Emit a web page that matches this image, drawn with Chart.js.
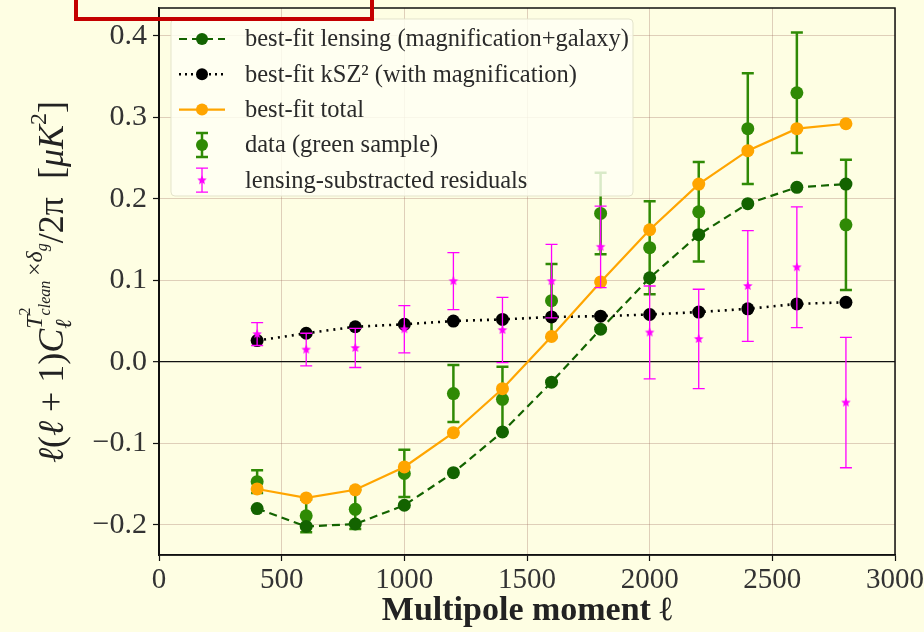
<!DOCTYPE html>
<html lang="en">
<head>
<meta charset="UTF-8">
<title>Lensing and kSZ² cross-spectrum</title>
<script src="https://cdn.jsdelivr.net/npm/chart.js"></script>
<style>
  html, body { margin: 0; padding: 0; background: #fefee3; }
  canvas { display: block; }
</style>
</head>
<body>
<canvas id="spectrumChart" width="924" height="632"></canvas>
<script>
// multipole bins
const ell = [400, 600, 800, 1000, 1200, 1400, 1600, 1800, 2000, 2200, 2400, 2600, 2800];

// best-fit curves
const lensingFit = [-0.180, -0.202, -0.199, -0.176, -0.136, -0.086, -0.025, 0.040, 0.103, 0.156, 0.194, 0.214, 0.218];
const kszFit     = [0.026, 0.035, 0.043, 0.046, 0.050, 0.052, 0.055, 0.056, 0.058, 0.061, 0.065, 0.071, 0.073];
const totalFit   = [-0.156, -0.167, -0.157, -0.129, -0.087, -0.033, 0.031, 0.098, 0.162, 0.218, 0.259, 0.286, 0.292];

// measurements and 1-sigma errors
const greenData = [-0.147, -0.189, -0.181, -0.137, -0.039, -0.046, 0.075, 0.182, 0.140, 0.184, 0.286, 0.330, 0.168];
const residuals = [0.034, 0.015, 0.017, 0.040, 0.099, 0.039, 0.099, 0.141, 0.036, 0.028, 0.093, 0.116, -0.050];
const sigma     = [0.014, 0.020, 0.024, 0.029, 0.035, 0.040, 0.045, 0.050, 0.057, 0.061, 0.068, 0.074, 0.080];

const xTickValues = [0, 500, 1000, 1500, 2000, 2500, 3000];
const yTickValues = [-0.2, -0.1, 0.0, 0.1, 0.2, 0.3, 0.4];

const legendLabels = [
  'best-fit lensing (magnification+galaxy)',
  'best-fit kSZ\u00b2 (with magnification)',
  'best-fit total',
  'data (green sample)',
  'lensing-substracted residuals'
];

const SERIF = '"Liberation Serif", "DejaVu Serif", serif';
const BG = '#fefee3';
const C_LENS = '#136300';
const C_DATA = '#2f8a05';
const C_TOTAL = '#ffa500';
const C_RES = '#ff00ff';

const pts = arr => ell.map((x, i) => ({ x: x, y: arr[i] }));

// small filled five-point star used as the residual marker
function starImage(r, color) {
  const c = document.createElement('canvas');
  c.width = c.height = 2 * r + 2;
  const g = c.getContext('2d');
  g.fillStyle = color;
  g.beginPath();
  for (let k = 0; k < 10; k++) {
    const a = -Math.PI / 2 + k * Math.PI / 5;
    const rr = k % 2 ? r * 0.45 : r;
    g.lineTo(r + 1 + rr * Math.cos(a), r + 1 + rr * Math.sin(a));
  }
  g.closePath();
  g.fill();
  return c;
}
const resStar = starImage(5, C_RES);

function drawErrorBar(ctx, x, yTop, yBot, cap, color, width) {
  ctx.save();
  ctx.strokeStyle = color;
  ctx.lineWidth = width;
  ctx.beginPath();
  ctx.moveTo(x, yTop); ctx.lineTo(x, yBot);
  ctx.moveTo(x - cap, yTop); ctx.lineTo(x + cap, yTop);
  ctx.moveTo(x - cap, yBot); ctx.lineTo(x + cap, yBot);
  ctx.stroke();
  ctx.restore();
}

// error bars go under their own markers
const errorBars = {
  id: 'errorBars',
  beforeDatasetDraw(chart, args) {
    const ds = chart.data.datasets[args.index];
    if (!ds.errors) return;
    const xs = chart.scales.x, ys = chart.scales.y;
    const ctx = chart.ctx;
    ds.data.forEach((p, i) => {
      const x = xs.getPixelForValue(p.x);
      drawErrorBar(ctx, x, ys.getPixelForValue(p.y + ds.errors[i]),
        ys.getPixelForValue(p.y - ds.errors[i]), 6, ds.errColor, ds.errWidth);
    });
  }
};

// rich text for the rotated y label
function runText(ctx, parts, x0, y0, draw) {
  let x = x0;
  const marks = {};
  parts.forEach(p => {
    if (p.at) x = marks[p.at];
    if (p.maxWith) x = Math.max(x, marks[p.maxWith]);
    ctx.font = (p.it ? 'italic ' : '') + p.s + 'px ' + SERIF;
    const w = ctx.measureText(p.t).width;
    if (draw) ctx.fillText(p.t, x, y0 + (p.dy || 0));
    if (p.adv !== false) x += w;
    if (p.save) marks[p.save] = x;
  });
  return x - x0;
}

const yTitleParts = [
  { t: '\u2113', s: 36, it: true },
  { t: '(', s: 36 },
  { t: '\u2113', s: 36, it: true },
  { t: '\u2005+\u20051)', s: 36 },
  { t: 'C', s: 36, it: true, save: 'c' },
  { t: '\u2113', s: 23, it: true, dy: 8, save: 'sub' },
  { t: 'T', s: 24, it: true, dy: -21, at: 'c' },
  { t: '2', s: 16, dy: -33, adv: false },
  { t: 'clean', s: 16, it: true, dy: -13 },
  { t: '\u2009\u00d7', s: 24, dy: -21 },
  { t: '\u03b4', s: 24, it: true, dy: -21 },
  { t: 'g', s: 16, it: true, dy: -16 },
  { t: '/2\u03c0\u2002[', s: 36, maxWith: 'sub' },
  { t: '\u03bcK', s: 36, it: true },
  { t: '2', s: 24, dy: -17 },
  { t: ']', s: 36 }
];

function drawLegendHandle(ctx, kind, x, y) {
  ctx.save();
  if (kind === 0 || kind === 1 || kind === 2) {
    const col = [C_LENS, '#000', C_TOTAL][kind];
    ctx.strokeStyle = col;
    ctx.lineWidth = kind === 1 ? 2.5 : 2.2;
    ctx.setLineDash(kind === 0 ? [8, 5] : kind === 1 ? [2, 4] : []);
    ctx.beginPath();
    ctx.moveTo(x - 23, y); ctx.lineTo(x + 23, y);
    ctx.stroke();
    ctx.setLineDash([]);
    ctx.fillStyle = col;
    ctx.beginPath(); ctx.arc(x, y, 6, 0, Math.PI * 2); ctx.fill();
  } else if (kind === 3) {
    drawErrorBar(ctx, x, y - 12, y + 12, 6, C_DATA, 2.5);
    ctx.fillStyle = C_DATA;
    ctx.beginPath(); ctx.arc(x, y, 6, 0, Math.PI * 2); ctx.fill();
  } else {
    drawErrorBar(ctx, x, y - 12, y + 12, 6, C_RES, 1.3);
    ctx.drawImage(resStar, x - resStar.width / 2, y - resStar.height / 2);
  }
  ctx.restore();
}

const decorations = {
  id: 'decorations',
  beforeDraw(chart) {
    const ctx = chart.ctx;
    ctx.save();
    ctx.fillStyle = BG;
    ctx.fillRect(0, 0, chart.width, chart.height);
    ctx.restore();
  },
  afterDraw(chart) {
    const ctx = chart.ctx;
    const a = chart.chartArea;

    // axes frame
    ctx.save();
    ctx.strokeStyle = '#111';
    ctx.lineWidth = 1.5;
    ctx.strokeRect(a.left, a.top, a.right - a.left, a.bottom - a.top);
    ctx.restore();

    // legend
    ctx.save();
    ctx.fillStyle = 'rgba(255,255,244,0.82)';
    ctx.strokeStyle = 'rgba(225,225,200,0.9)';
    ctx.lineWidth = 1;
    ctx.beginPath();
    ctx.roundRect(171, 19, 462, 177, 4);
    ctx.fill();
    ctx.stroke();
    ctx.font = '24.5px ' + SERIF;
    ctx.textBaseline = 'middle';
    legendLabels.forEach((lab, i) => {
      const y = 39 + i * 35.3;
      drawLegendHandle(ctx, i, 202, y);
      ctx.fillStyle = '#2a2a2a';
      ctx.fillText(lab, 245, y + 1);
    });
    ctx.restore();

    // y axis title
    ctx.save();
    ctx.translate(63, 282);
    ctx.rotate(-Math.PI / 2);
    ctx.fillStyle = '#222';
    ctx.textBaseline = 'alphabetic';
    const w = runText(ctx, yTitleParts, 0, 0, false);
    runText(ctx, yTitleParts, -w / 2, 0, true);
    ctx.restore();

    // red highlight box at the top
    ctx.save();
    ctx.strokeStyle = '#c40000';
    ctx.lineWidth = 4;
    ctx.strokeRect(76, -10, 296, 29);
    ctx.restore();
  }
};

const gridColor = c => (c.tick && c.tick.value === 0) ? '#111' : 'rgba(160,110,95,0.32)';

new Chart(document.getElementById('spectrumChart'), {
  type: 'line',
  data: {
    datasets: [
      {
        label: legendLabels[4], data: pts(residuals), showLine: false,
        pointStyle: resStar, pointRadius: 5,
        errors: sigma, errColor: C_RES, errWidth: 1.3
      },
      {
        label: legendLabels[2], data: pts(totalFit), borderColor: C_TOTAL, backgroundColor: C_TOTAL,
        borderWidth: 2.2, pointRadius: 6.5, pointBorderWidth: 0, tension: 0
      },
      {
        label: legendLabels[1], data: pts(kszFit), borderColor: '#000', backgroundColor: '#000',
        borderWidth: 2.6, borderDash: [2, 5], pointRadius: 6.5, pointBorderWidth: 0, tension: 0
      },
      {
        label: legendLabels[0], data: pts(lensingFit), borderColor: C_LENS, backgroundColor: C_LENS,
        borderWidth: 2.2, borderDash: [8, 5], pointRadius: 6.5, pointBorderWidth: 0, tension: 0
      },
      {
        label: legendLabels[3], data: pts(greenData), showLine: false,
        backgroundColor: C_DATA, borderColor: C_DATA, pointRadius: 6.5, pointBorderWidth: 0,
        errors: sigma, errColor: C_DATA, errWidth: 2.5
      }
    ]
  },
  options: {
    responsive: false,
    animation: false,
    layout: { padding: { top: 8, right: 29, left: 0, bottom: 0 } },
    plugins: { legend: { display: false }, tooltip: { enabled: false } },
    scales: {
      x: {
        type: 'linear', min: 0, max: 3000,
        afterBuildTicks: s => { s.ticks = xTickValues.map(v => ({ value: v })); },
        afterFit: s => { s.height = 77; s.paddingLeft = 0; s.paddingRight = 0; },
        grid: { color: gridColor, lineWidth: 1, tickColor: '#111', tickLength: 6, tickWidth: 1.2 },
        border: { color: '#111', width: 1.5 },
        ticks: { color: '#333', padding: 2, font: { family: SERIF, size: 29 }, maxRotation: 0, callback: v => String(v) },
        title: { display: true, text: 'Multipole moment \u2113', color: '#222', padding: { top: 0, bottom: 0 },
                 font: { family: SERIF, size: 34, weight: 'bold' } }
      },
      y: {
        type: 'linear', min: -0.237, max: 0.434,
        afterBuildTicks: s => { s.ticks = yTickValues.map(v => ({ value: v })); },
        afterFit: s => { s.width = 159; s.paddingTop = 0; s.paddingBottom = 0; },
        grid: { color: gridColor, lineWidth: c => (c.tick && c.tick.value === 0) ? 1.3 : 1, tickColor: '#111', tickLength: 6, tickWidth: 1.2 },
        border: { color: '#111', width: 1.5 },
        ticks: { color: '#333', padding: 6, font: { family: SERIF, size: 30 },
                 callback: v => (v < -1e-9 ? '\u2212' : '') + Math.abs(v).toFixed(1) }
      }
    }
  },
  plugins: [errorBars, decorations]
});
</script>
</body>
</html>
